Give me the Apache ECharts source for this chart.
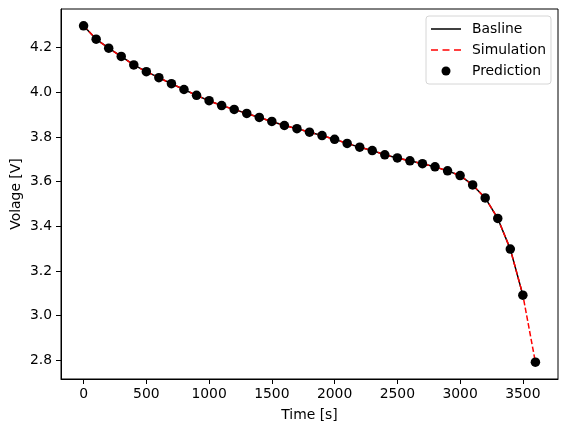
<!DOCTYPE html>
<html>
<head>
<meta charset="utf-8">
<script src="https://cdn.jsdelivr.net/npm/echarts@6/dist/echarts.min.js"></script>
<style>
html,body{margin:0;padding:0;background:#fff;}
#chart{width:567px;height:432px;}
</style>
</head>
<body>
<div id="chart"></div>
<script>
// ---- data ----
var timeSec = [0,100,200,300,400,500,600,700,800,900,1000,1100,1200,1300,1400,1500,1600,1700,1800,1900,2000,2100,2200,2300,2400,2500,2600,2700,2800,2900,3000,3100,3200,3300,3400,3500,3600];
var prediction = [4.297,4.237,4.197,4.160,4.122,4.092,4.065,4.038,4.012,3.986,3.962,3.940,3.923,3.905,3.887,3.869,3.851,3.837,3.821,3.806,3.789,3.771,3.754,3.739,3.720,3.706,3.693,3.680,3.666,3.648,3.627,3.585,3.527,3.435,3.298,3.092,2.792];
var simulation = [4.297,4.237,4.197,4.160,4.122,4.092,4.065,4.038,4.012,3.986,3.962,3.940,3.923,3.905,3.887,3.869,3.851,3.837,3.821,3.806,3.789,3.771,3.754,3.739,3.720,3.706,3.693,3.680,3.666,3.648,3.627,3.585,3.527,3.435,3.298,3.092,2.792];
var baselineTime = [0,100,200,300,400,500,600,700,800,900,1000,1100,1200,1300,1400,1500,1600,1700,1800,1900,2000,2100,2200,2300,2400,2500,2600,2700,2800,2900,3000,3100,3200,3300,3400,3500];
var baseline = [4.297,4.237,4.197,4.160,4.122,4.092,4.065,4.038,4.012,3.986,3.962,3.940,3.923,3.905,3.887,3.869,3.851,3.837,3.821,3.806,3.789,3.771,3.754,3.739,3.720,3.706,3.693,3.680,3.666,3.648,3.627,3.585,3.527,3.435,3.298,3.092];
var xTicks = [0,500,1000,1500,2000,2500,3000,3500];
var yTicks = [2.8,3.0,3.2,3.4,3.6,3.8,4.0,4.2];
var seriesNames = ['Basline','Simulation','Prediction'];
var xTitle = 'Time [s]';
var yTitle = 'Volage [V]';

function zip(a,b){ return a.map(function(v,i){ return [v,b[i]]; }); }
var xmin0 = Math.min.apply(null,timeSec), xmax0 = Math.max.apply(null,timeSec);
var ymin0 = Math.min.apply(null,prediction), ymax0 = Math.max.apply(null,prediction);
var xm = (xmax0-xmin0)*0.05, ym = (ymax0-ymin0)*0.05;

var font = 'DejaVu Sans';
var fs = 13.9;
var solidIcon = 'path://M0,0h30v1.5h-30z';
var dashIcon = 'path://M0,0h7v1.5h-7z M11.5,0h7v1.5h-7z M23,0h7v1.5h-7z';
var chart = echarts.init(document.getElementById('chart'), null, {renderer:'canvas'});
chart.setOption({
  animation:false,
  backgroundColor:'#fff',
  textStyle:{fontFamily:font},
  grid:{left:61,right:9,top:9,bottom:53,containLabel:false,outerBoundsMode:'none',show:true,borderColor:'#000',borderWidth:1,backgroundColor:'transparent'},
  legend:{
    orient:'vertical', left:426, top:16,
    data:[{name:seriesNames[0],icon:solidIcon},{name:seriesNames[1],icon:dashIcon},{name:seriesNames[2],icon:'circle'}],
    itemWidth:30, itemHeight:9, itemGap:7,
    padding:[6,5,6,5],
    borderColor:'#d6d6d6', borderWidth:1, borderRadius:3, backgroundColor:'rgba(255,255,255,0.8)',
    textStyle:{fontFamily:font,fontSize:fs,color:'#000',padding:[0,0,0,6]}
  },
  xAxis:{
    type:'value', min:xmin0-xm, max:xmax0+xm,
    name:xTitle, nameLocation:'middle', nameGap:29, nameMoveOverlap:false,
    nameTextStyle:{fontFamily:font,fontSize:fs,color:'#000'},
    axisLine:{show:true,onZero:false,lineStyle:{color:'#000',width:1}},
    axisTick:{show:true,length:5,inside:false,customValues:xTicks,lineStyle:{color:'#000'}},
    axisLabel:{customValues:xTicks,fontFamily:font,fontSize:fs,color:'#000',margin:8,formatter:function(v){return String(v);}},
    splitLine:{show:false}
  },
  yAxis:{
    type:'value', min:ymin0-ym, max:ymax0+ym,
    name:yTitle, nameLocation:'middle', nameGap:38, nameRotate:90, nameMoveOverlap:false,
    nameTextStyle:{fontFamily:font,fontSize:fs,color:'#000'},
    axisLine:{show:true,onZero:false,lineStyle:{color:'#000',width:1}},
    axisTick:{show:true,length:5,inside:false,customValues:yTicks,lineStyle:{color:'#000'}},
    axisLabel:{customValues:yTicks,fontFamily:font,fontSize:fs,color:'#000',margin:9,formatter:function(v){return v.toFixed(1);}},
    splitLine:{show:false}
  },
  series:[
    {name:seriesNames[0],type:'line',data:zip(baselineTime,baseline),symbol:'none',
     lineStyle:{color:'#000',width:1.5},itemStyle:{color:'#000'},z:2},
    {name:seriesNames[1],type:'line',data:zip(timeSec,simulation),symbol:'none',
     lineStyle:{color:'#ff0000',width:1.5,type:[5.5,2.4]},itemStyle:{color:'#ff0000'},z:3},
    {name:seriesNames[2],type:'scatter',data:zip(timeSec,prediction),symbol:'circle',symbolSize:9.5,
     itemStyle:{color:'#000',opacity:1},z:4}
  ]
});
</script>
</body>
</html>
